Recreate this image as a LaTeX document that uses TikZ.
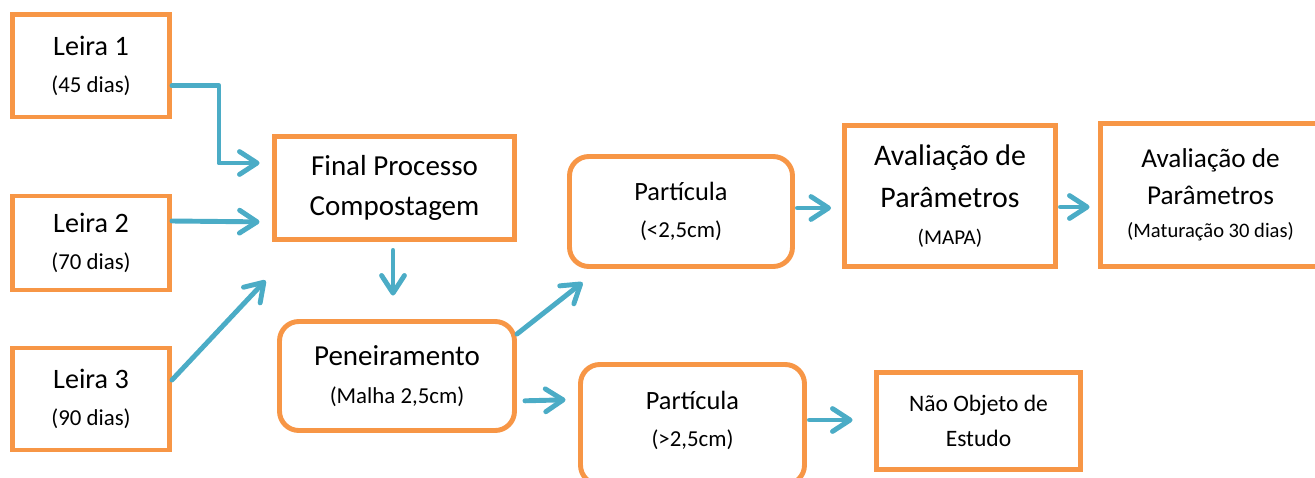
\documentclass[tikz,border=0pt]{standalone}
\usepackage{fontspec}
\setmainfont{Carlito}
\usepackage{tikz}
\usetikzlibrary{arrows.meta}
\definecolor{boxorange}{HTML}{F79646}
\definecolor{arrowblue}{HTML}{4BACC6}
\newcommand{\subfont}[1]{{\fontsize{13}{20}\selectfont #1}}
\tikzset{
    box/.style = {rectangle, line width=2.8pt, draw=boxorange, fill=white, align=center, inner sep=0pt, font=\fontsize{16.5}{23}\selectfont},
    roundbox/.style = {box, rounded corners=11pt},
    edgeb/.style = {-{Straight Barb[length=10pt,width=13pt,round]}, line width=2.8pt, draw=arrowblue, line cap=round, line join=round},
}
\begin{document}
\begin{tikzpicture}[x=0.02cm,y=-0.02cm]
\useasboundingbox (0,0) rectangle (1315,477);
%
\node[box, minimum width=157*0.02cm, minimum height=102.5*0.02cm, font=\fontsize{16}{21}\selectfont] at (91,65.75) (leira1) {Leira 1\\\subfont{(45 dias)}};
\node[box, minimum width=157*0.02cm, minimum height=94*0.02cm, font=\fontsize{16}{21}\selectfont] at (91,243) (leira2) {Leira 2\\\subfont{(70 dias)}};
\node[box, minimum width=157*0.02cm, minimum height=102*0.02cm, font=\fontsize{16}{21}\selectfont] at (91,399) (leira3) {Leira 3\\\subfont{(90 dias)}};
\node[box, minimum width=240*0.02cm, minimum height=103*0.02cm] at (394.5,188) (final) {Final Processo\\Compostagem};
\node[roundbox, minimum width=235*0.02cm, minimum height=109*0.02cm, font=\fontsize{16.5}{22}\selectfont] at (397,376) (penei) {Peneiramento\\\subfont{(Malha 2,5cm)}};
\node[roundbox, minimum width=223*0.02cm, minimum height=110*0.02cm, font=\fontsize{15}{21}\selectfont] at (681,211.5) (partA) {Partícula\\\subfont{(<2,5cm)}};
\node[roundbox, minimum width=224*0.02cm, minimum height=120*0.02cm, font=\fontsize{15}{21}\selectfont] at (692.5,424.5) (partB) {Partícula\\\subfont{(>2,5cm)}\\[-15pt]\mbox{}};
\node[box, minimum width=211*0.02cm, minimum height=141*0.02cm, font=\fontsize{17}{24}\selectfont] at (950,196) (mapa) {Avaliação de\\Parâmetros\\[-3pt]{\fontsize{12}{20}\selectfont (MAPA)}};
\node[box, minimum width=220*0.02cm, minimum height=143*0.02cm, font=\fontsize{15.5}{21}\selectfont] at (1210.5,195) (matur) {Avaliação de\\Parâmetros\\[-2pt]{\fontsize{11.7}{18}\selectfont (Maturação 30 dias)}};
\node[box, minimum width=204*0.02cm, minimum height=97*0.02cm, font=\fontsize{13.4}{20}\selectfont] at (978.5,421) (naoobj) {Não Objeto de\\Estudo};
%
\draw[edgeb, shorten >=0.25cm] ([yshift=-0.4cm]leira1.east) -- ++(47,0) |- ([yshift=0.5cm]final.west);
\draw[edgeb, shorten >=0.25cm] ([yshift=0.44cm]leira2.east) -- ([yshift=-0.68cm]final.west);
\draw[edgeb] ([yshift=0.38cm]leira3.east) -- ([xshift=-0.13cm,yshift=-0.77cm]final.south west);
\draw[edgeb, shorten <=0.17cm, shorten >=0.47cm] ([xshift=-0.03cm]final.south) -- ([xshift=-0.03cm]final.south |- penei.north);
\draw[edgeb] ([yshift=-0.3cm]penei.north east) -- ([xshift=0.31cm,yshift=-0.27cm]partA.south west);
\draw[edgeb, shorten <=0.16cm, shorten >=0.25cm] ([yshift=-0.5cm]penei.east) -- ([yshift=0.5cm]partB.west);
\draw[edgeb, shorten <=0.05cm, shorten >=0.22cm] ([yshift=0.07cm]partA.east) -- ([yshift=0.07cm]partA.east -| mapa.west);
\draw[edgeb, shorten <=0.05cm, shorten >=0.17cm] ([yshift=-0.22cm]mapa.east) -- ([yshift=-0.22cm]mapa.east -| matur.west);
\draw[edgeb, shorten <=0.05cm, shorten >=0.43cm] ([yshift=0.09cm]partB.east) -- ([yshift=0.09cm]partB.east -| naoobj.west);

\end{tikzpicture}
\end{document}
